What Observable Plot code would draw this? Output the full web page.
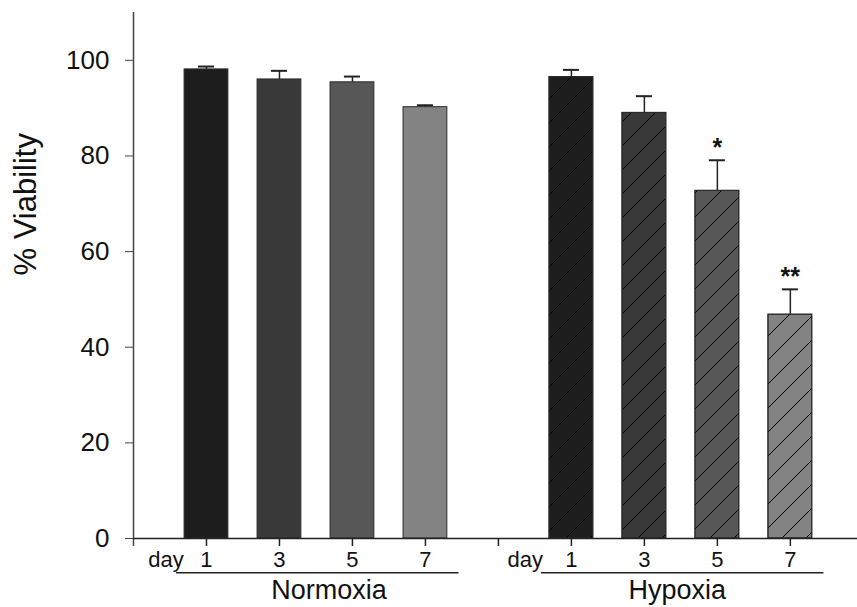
<!DOCTYPE html>
<html>
<head>
<meta charset="utf-8">
<script src="https://cdn.jsdelivr.net/npm/d3@7"></script>
<script src="https://cdn.jsdelivr.net/npm/@observablehq/plot@0.6"></script>
<style>
  html, body { margin: 0; padding: 0; background: #fff; }
</style>
</head>
<body>
<div id="chart"></div>
<script>
const days = ["1", "3", "5", "7"];
const groups = ["Normoxia", "Hypoxia"];
const normoxiaMean = [98.1, 96.0, 95.4, 90.2];
const normoxiaErr = [0.6, 1.8, 1.2, 0.4];
const hypoxiaMean = [96.5, 89.0, 72.7, 46.8];
const hypoxiaErr = [1.5, 3.5, 6.4, 5.3];
const hypoxiaSig = ["", "", "*", "**"];
const yTicks = [0, 20, 40, 60, 80, 100];
const shades = ["#1d1d1d", "#393939", "#575757", "#838383"];

const means = [normoxiaMean, hypoxiaMean];
const errs = [normoxiaErr, hypoxiaErr];
const sigs = [["", "", "", ""], hypoxiaSig];

const rows = [];
groups.forEach((g, gi) => {
  days.forEach((d, i) => {
    rows.push({
      group: g, day: d, pos: gi * 5 + i,
      mean: means[gi][i], err: errs[gi][i], sig: sigs[gi][i],
      color: shades[i], hatched: gi === 1
    });
  });
});
const groupRows = groups.map((g, gi) => ({name: g, start: gi * 5}));

const pxPerUnit = (538 - 12) / 110;
const tickLen = 8 / pxPerUnit;
const font = "'Liberation Sans', Arial, Helvetica, sans-serif";

const svg = Plot.plot({
  width: 857,
  height: 607,
  marginLeft: 133,
  marginRight: 0,
  marginTop: 12,
  marginBottom: 69,
  x: {type: "linear", domain: [-1, 8.92], axis: null},
  y: {domain: [0, 110], axis: null},
  color: {type: "identity"},
  style: {fontFamily: font, background: "#fff", color: "#111", overflow: "visible"},
  marks: [
    // y axis line (extends slightly below zero like a tick)
    Plot.ruleX([-1], {y1: -tickLen, y2: 110, stroke: "#444", strokeWidth: 1.5}),
    Plot.axisY({ticks: yTicks, tickSize: 8, tickPadding: 16, fontSize: 26, label: null, stroke: "#444", fill: "#111"}),
    // x axis ticks at every slot
    Plot.ruleX(d3.range(0, 9), {y1: 0, y2: -tickLen, stroke: "#222", strokeWidth: 1.5}),
    // error bars
    Plot.ruleX(rows, {x: "pos", y1: "mean", y2: d => d.mean + d.err, stroke: "#222", strokeWidth: 1.5}),
    Plot.ruleY(rows, {y: d => d.mean + d.err, x1: d => d.pos - 0.11, x2: d => d.pos + 0.11, stroke: "#222", strokeWidth: 2}),
    // bars
    Plot.rectY(rows, {x1: d => d.pos - 0.3, x2: d => d.pos + 0.3, y1: 0, y2: "mean", fill: "color", stroke: "#2a2a2a", strokeWidth: 1}),
    Plot.rectY(rows.filter(d => d.hatched), {x1: d => d.pos - 0.3, x2: d => d.pos + 0.3, y1: 0, y2: "mean", fill: "url(#hatch)", stroke: "#2a2a2a", strokeWidth: 1}),
    // x axis line
    Plot.ruleY([0], {x1: -1, x2: 8.92, stroke: "#222", strokeWidth: 1.5}),
    // significance stars
    Plot.text(rows.filter(d => d.sig), {x: "pos", y: d => d.mean + d.err, dy: -12, text: "sig", fontSize: 25, fontWeight: "bold", fill: "#111"}),
    // day tick labels
    Plot.text(rows, {x: "pos", y: -4.43, text: "day", fontSize: 22, fill: "#111"}),
    Plot.text(groupRows, {x: d => d.start - (d.name === "Normoxia" ? 0.31 : 0.39), y: -4.43, text: () => "day", textAnchor: "end", fontSize: 22, fill: "#111"}),
    // group underlines
    Plot.ruleY(groupRows, {y: -7.15, x1: d => d.start - 0.41, x2: d => d.start + 3.46, stroke: "#222", strokeWidth: 1.5}),
    // group labels
    Plot.text(groupRows, {x: d => d.start + (d.name === "Normoxia" ? 1.68 : 1.45), y: -10.9, text: "name", fontSize: 27, fill: "#111"}),
    // y axis title
    Plot.text(["% Viability"], {frameAnchor: "left", dx: -107, rotate: -90, fontSize: 31, fill: "#111"})
  ]
});

const defs = d3.select(svg).insert("defs", ":first-child");
const pat = defs.append("pattern")
  .attr("id", "hatch")
  .attr("patternUnits", "userSpaceOnUse")
  .attr("width", 24)
  .attr("height", 24);
pat.append("path")
  .attr("d", "M0,24 L24,0 M-4,4 L4,-4 M20,28 L28,20")
  .attr("stroke", "#000")
  .attr("stroke-width", 1)
  .attr("fill", "none");

document.getElementById("chart").appendChild(svg);
</script>
</body>
</html>
